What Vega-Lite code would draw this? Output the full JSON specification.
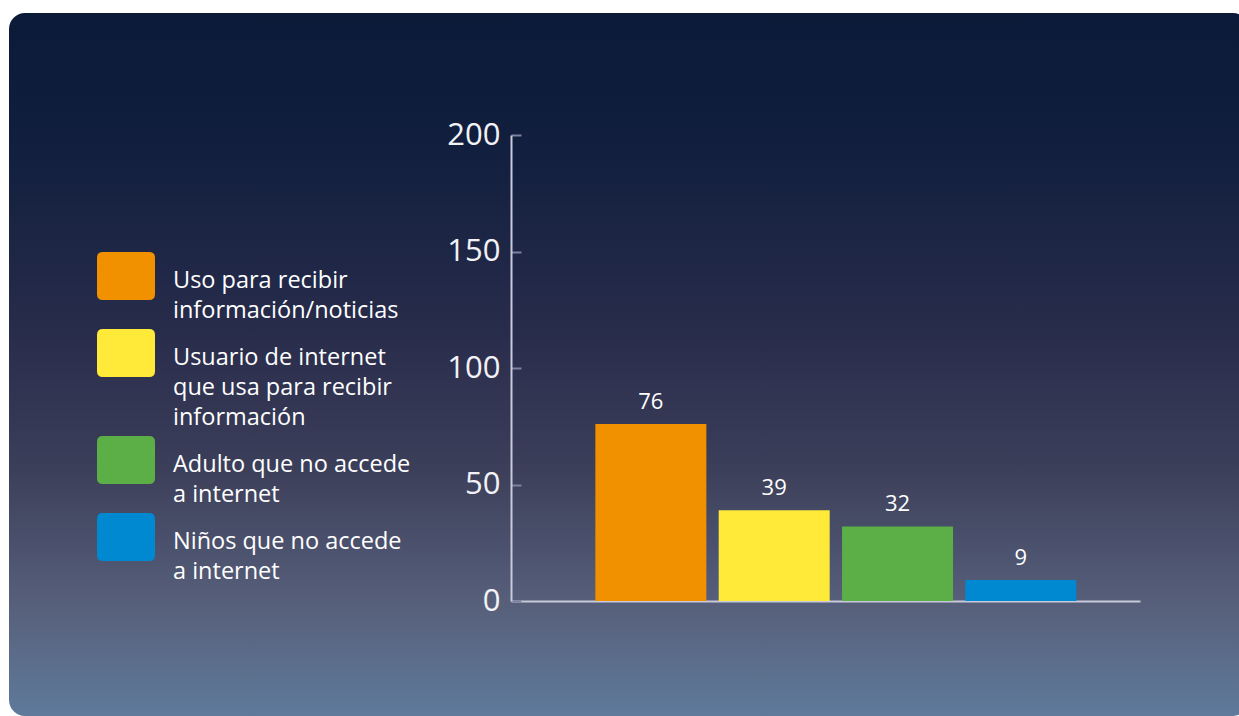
{
  "$schema": "https://vega.github.io/schema/vega-lite/v6.json",
  "width": 1240,
  "height": 703,
  "autosize": {"type": "none"},
  "padding": {"left": 9, "top": 13, "right": 0, "bottom": 0},
  "background": "#ffffff",
  "config": {
    "font": "Open Sans",
    "view": {
      "stroke": null,
      "cornerRadius": 16,
      "fill": {
        "gradient": "linear",
        "x1": 0, "y1": 0, "x2": 0, "y2": 1,
        "stops": [
          {"offset": 0, "color": "#0a1a37"},
          {"offset": 0.2, "color": "#121f3e"},
          {"offset": 0.45, "color": "#282c4b"},
          {"offset": 0.65, "color": "#3c3f5a"},
          {"offset": 0.85, "color": "#58617c"},
          {"offset": 1, "color": "#5f7a9b"}
        ]
      }
    }
  },
  "data": {
    "values": [
      {"categoria": "Uso para recibir información/noticias", "valor": 76},
      {"categoria": "Usuario de internet que usa para recibir información", "valor": 39},
      {"categoria": "Adulto que no accede a internet", "valor": 32},
      {"categoria": "Niños que no accede a internet", "valor": 9}
    ]
  },
  "encoding": {
    "x": {
      "field": "categoria",
      "type": "nominal",
      "sort": null,
      "scale": {"range": [502, 1131], "paddingInner": 0.1, "paddingOuter": 0.6, "align": 0.57},
      "axis": {
        "orient": "bottom",
        "offset": -115,
        "title": null,
        "labels": false,
        "ticks": false,
        "domainColor": "#c9cadb",
        "domainWidth": 2
      }
    },
    "y": {
      "field": "valor",
      "type": "quantitative",
      "scale": {"domain": [0, 200], "range": [588, 122], "nice": false},
      "axis": {
        "orient": "left",
        "offset": -502,
        "title": null,
        "values": [0, 50, 100, 150, 200],
        "grid": false,
        "labelFont": "Open Sans",
        "labelFontSize": 31,
        "labelColor": "#f2f2f6",
        "labelPadding": 21,
        "domainColor": "#c9cadb",
        "domainWidth": 2,
        "tickColor": "#7d83a0",
        "tickSize": -10,
        "tickWidth": 2
      }
    }
  },
  "layer": [
    {
      "mark": {"type": "bar"},
      "encoding": {
        "color": {
          "field": "categoria",
          "type": "nominal",
          "sort": null,
          "scale": {
            "domain": [
              "Uso para recibir información/noticias",
              "Usuario de internet que usa para recibir información",
              "Adulto que no accede a internet",
              "Niños que no accede a internet"
            ],
            "range": ["#f29100", "#ffea3a", "#5cae46", "#0088d0"]
          },
          "legend": {
            "orient": "none",
            "legendX": 88,
            "legendY": 234,
            "title": null,
            "symbolType": "M-0.8,-0.83L0.8,-0.83Q1,-0.83,1,-0.63L1,0.63Q1,0.83,0.8,0.83L-0.8,0.83Q-1,0.83,-1,0.63L-1,-0.63Q-1,-0.83,-0.8,-0.83Z",
            "symbolSize": 3364,
            "symbolStrokeWidth": 0,
            "symbolOpacity": 1,
            "labelFont": "Open Sans",
            "labelFontSize": 23.5,
            "labelColor": "#ffffff",
            "labelLimit": 0,
            "labelOffset": 18,
            "labelBaseline": "top",
            "rowPadding": 1,
            "labelExpr": "datum.label == 'Uso para recibir información/noticias' ? ['Uso para recibir', 'información/noticias'] : datum.label == 'Usuario de internet que usa para recibir información' ? ['Usuario de internet', 'que usa para recibir', 'información'] : datum.label == 'Adulto que no accede a internet' ? ['Adulto que no accede', 'a internet'] : ['Niños que no accede', 'a internet']",
            "encode": {
              "labels": {"update": {"lineHeight": {"value": 30}, "dy": {"value": -7}}}
            }
          }
        }
      }
    },
    {
      "mark": {"type": "text", "dy": -15, "baseline": "alphabetic", "fontSize": 22, "color": "#ffffff", "font": "Open Sans"},
      "encoding": {
        "text": {"field": "valor", "type": "quantitative"}
      }
    }
  ]
}
